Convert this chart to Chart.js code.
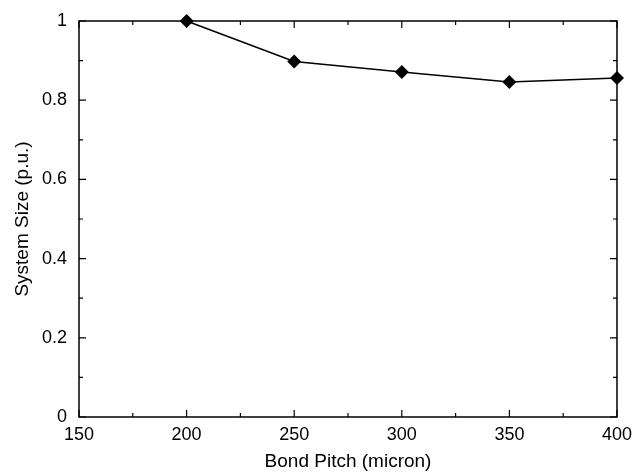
<!DOCTYPE html>
<html>
<head>
<meta charset="utf-8">
<script src="https://cdn.jsdelivr.net/npm/chart.js@4/dist/chart.umd.min.js"></script>
<style>
  html, body { margin: 0; padding: 0; background: #fff; }
  #wrap { width: 635px; height: 475px; }
</style>
</head>
<body>
<div id="wrap"><canvas id="c" width="635" height="475"></canvas></div>
<script>
// Bond pitch (micron) against normalised system size
const bondPitch = [200, 250, 300, 350, 400];
const systemSize = [1.0, 0.898, 0.871, 0.846, 0.856];

const xMin = 150, xMax = 400, xStep = 50, xMinorStep = 25;
const yMin = 0, yMax = 1, yStep = 0.2, yMinorStep = 0.1;

const FONT = '"Liberation Sans", Arial, Helvetica, sans-serif';

// Frame around the plot with inward-pointing major and minor ticks on all four sides
const frameTicks = {
  id: 'frameTicks',
  afterDraw(chart) {
    const { ctx, chartArea: a, scales } = chart;
    const xs = scales.x, ys = scales.y;
    ctx.save();
    ctx.strokeStyle = '#000';
    ctx.lineWidth = 1.5;
    ctx.strokeRect(a.left, a.top, a.right - a.left, a.bottom - a.top);
    ctx.lineWidth = 1.2;
    ctx.beginPath();
    for (let i = 0; xMin + i * xMinorStep <= xMax + 1e-9; i++) {
      const v = xMin + i * xMinorStep;
      const px = xs.getPixelForValue(v);
      const len = (i % 2 === 0) ? 7 : 4;
      ctx.moveTo(px, a.bottom); ctx.lineTo(px, a.bottom - len);
      ctx.moveTo(px, a.top); ctx.lineTo(px, a.top + len);
    }
    for (let i = 0; yMin + i * yMinorStep <= yMax + 1e-9; i++) {
      const v = yMin + i * yMinorStep;
      const py = ys.getPixelForValue(v);
      const len = (i % 2 === 0) ? 7 : 4;
      ctx.moveTo(a.left, py); ctx.lineTo(a.left + len, py);
      ctx.moveTo(a.right, py); ctx.lineTo(a.right - len, py);
    }
    ctx.stroke();
    ctx.restore();
  }
};

new Chart(document.getElementById('c'), {
  type: 'line',
  data: {
    datasets: [{
      data: bondPitch.map((x, i) => ({ x, y: systemSize[i] })),
      borderColor: '#000',
      backgroundColor: '#000',
      borderWidth: 1.5,
      pointStyle: 'rectRot',
      pointRadius: 7,
      pointHoverRadius: 7,
      pointBackgroundColor: '#000',
      pointBorderColor: '#000',
      pointBorderWidth: 0,
      tension: 0,
      clip: false
    }]
  },
  options: {
    responsive: false,
    animation: false,
    devicePixelRatio: 1,
    layout: { padding: { top: 21, right: 18, left: 0, bottom: 0 } },
    plugins: { legend: { display: false }, tooltip: { enabled: false } },
    scales: {
      x: {
        type: 'linear',
        min: xMin, max: xMax,
        afterFit(s) { s.height = 58; s.paddingLeft = 0; s.paddingRight = 0; },
        grid: { display: false, drawTicks: false },
        border: { display: false },
        ticks: {
          stepSize: xStep,
          padding: 7,
          color: '#000',
          font: { family: FONT, size: 18 }
        },
        title: {
          display: true,
          text: 'Bond Pitch (micron)',
          color: '#000',
          font: { family: FONT, size: 19 },
          padding: { top: 0, bottom: 2 }
        }
      },
      y: {
        type: 'linear',
        min: yMin, max: yMax,
        afterFit(s) { s.width = 79; s.paddingTop = 0; s.paddingBottom = 0; },
        grid: { display: false, drawTicks: false },
        border: { display: false },
        ticks: {
          stepSize: yStep,
          padding: 12,
          color: '#000',
          font: { family: FONT, size: 18 },
          callback: (v) => String(Number(v.toFixed(2)))
        },
        title: {
          display: true,
          text: 'System Size (p.u.)',
          color: '#000',
          font: { family: FONT, size: 19 },
          padding: { top: 11, bottom: 0 }
        }
      }
    }
  },
  plugins: [frameTicks]
});
</script>
</body>
</html>
